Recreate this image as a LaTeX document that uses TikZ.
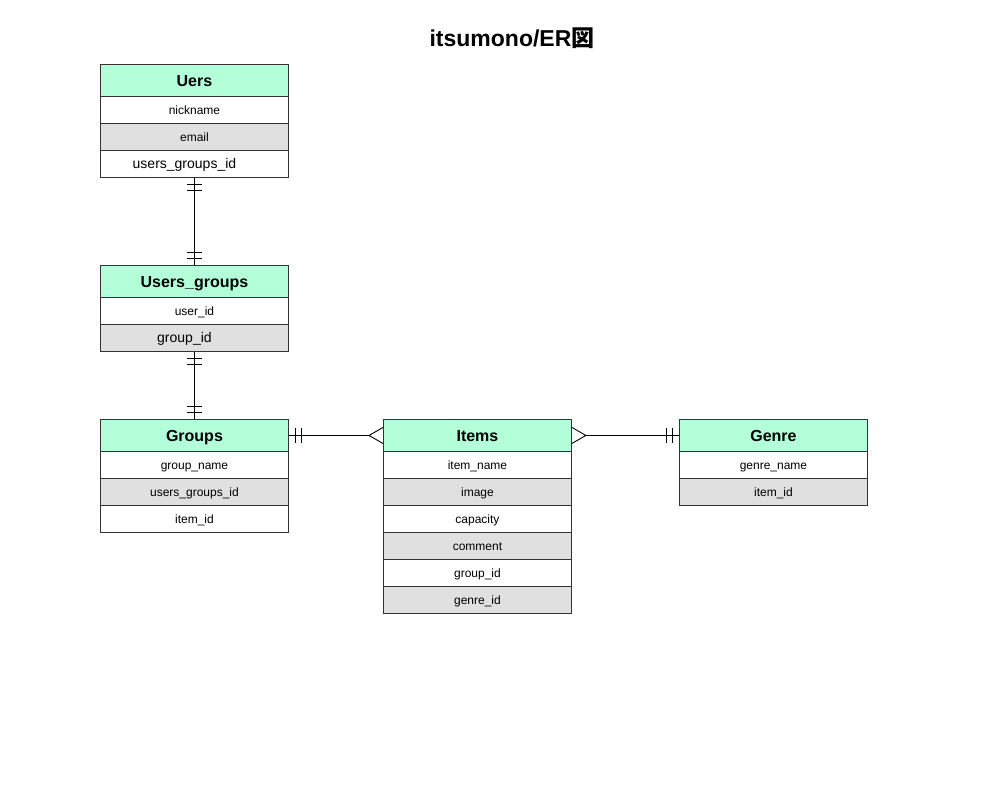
\documentclass[tikz,border=0pt]{standalone}
\usepackage{fontspec}
\setmainfont{Liberation Sans}
\newfontfamily\cjk{Noto Sans CJK JP}
\usetikzlibrary{decorations.markings}
\definecolor{mint}{HTML}{B3FFDA}
\definecolor{rowgray}{HTML}{E0E0E0}
\definecolor{edge}{HTML}{333333}
\tikzset{
  hdr/.style={draw=edge, line width=0.9pt, fill=mint, minimum width=188pt, minimum height=32pt, inner sep=0pt, text height=14pt, text depth=2.5pt, anchor=north west, font=\bfseries\fontsize{16}{18}\selectfont},
  fld/.style={draw=edge, line width=0.9pt, fill=white, minimum width=188pt, minimum height=27pt, inner sep=0pt, text height=11pt, text depth=2pt, anchor=north west, font=\fontsize{12}{14}\selectfont},
  fldg/.style={fld, fill=rowgray},
  bigfld/.style={font=\fontsize{14}{16}\selectfont, text height=12pt, text depth=2pt},
  conn/.style={draw=black, line width=0.9pt},
  barsstart/.style={postaction={decorate, decoration={markings,
      mark=at position 7pt with {\draw[line width=0.9pt] (0pt,-7.5pt) -- (0pt,7.5pt);},
      mark=at position 13pt with {\draw[line width=0.9pt] (0pt,-7.5pt) -- (0pt,7.5pt);}}}},
  barsend/.style={postaction={decorate, decoration={markings,
      mark=at position -7pt with {\draw[line width=0.9pt] (0pt,-7.5pt) -- (0pt,7.5pt);},
      mark=at position -13pt with {\draw[line width=0.9pt] (0pt,-7.5pt) -- (0pt,7.5pt);}}}},
  crow/.style={draw=black, line width=0.9pt}
}
\begin{document}
\begin{tikzpicture}[x=1pt,y=-1pt]
\useasboundingbox[fill=white] (0,0) rectangle (1000,800);

\node[font=\bfseries\fontsize{23}{26}\selectfont] (title) at (512,38) {itsumono/ER{\cjk 図}};

% Uers
\node[hdr] (uers) at (100,64) {Uers};
\node[fld] (u1) at (100,96) {nickname};
\node[fldg] (u2) at (100,123) {email};
\node[fld, bigfld] (u3) at (100,150) {users\_groups\_id\kern20pt};

% Users_groups
\node[hdr] (ug) at (100,265) {Users\_groups};
\node[fld] (ug1) at (100,297) {user\_id};
\node[fldg, bigfld] (ug2) at (100,324) {group\_id\kern20pt};

% Groups
\node[hdr] (groups) at (100,419) {Groups};
\node[fld] (g1) at (100,451) {group\_name};
\node[fldg] (g2) at (100,478) {users\_groups\_id};
\node[fld] (g3) at (100,505) {item\_id};

% Items
\node[hdr] (items) at (383,419) {Items};
\node[fld] (i1) at (383,451) {item\_name};
\node[fldg] (i2) at (383,478) {image};
\node[fld] (i3) at (383,505) {capacity};
\node[fldg] (i4) at (383,532) {comment};
\node[fld] (i5) at (383,559) {group\_id};
\node[fldg] (i6) at (383,586) {genre\_id};

% Genre
\node[hdr] (genre) at (679,419) {Genre};
\node[fld] (ge1) at (679,451) {genre\_name};
\node[fldg] (ge2) at (679,478) {item\_id};

% connectors
\draw[conn, barsstart, barsend] (u3.south) -- (ug.north);
\draw[conn, barsstart, barsend] (ug2.south) -- (groups.north);
\draw[conn, barsstart] (groups.east) -- ([xshift=-14pt]items.west);
\draw[crow] ([xshift=-14pt]items.west) -- ([yshift=8pt]items.west)
            ([xshift=-14pt]items.west) -- ([yshift=-8pt]items.west);
\draw[conn, barsend] ([xshift=14pt]items.east) -- (genre.west);
\draw[crow] ([xshift=14pt]items.east) -- ([yshift=8pt]items.east)
            ([xshift=14pt]items.east) -- ([yshift=-8pt]items.east);
\end{tikzpicture}
\end{document}
